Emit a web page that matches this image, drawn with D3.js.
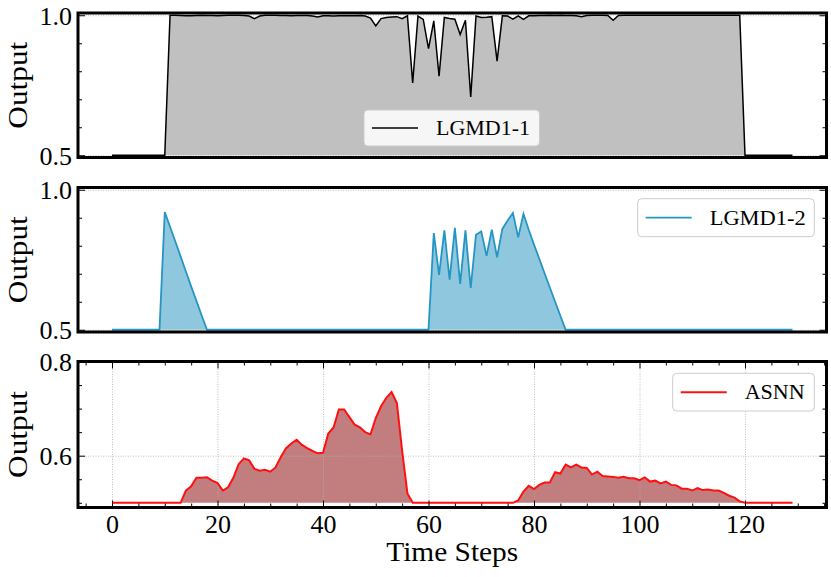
<!DOCTYPE html>
<html>
<head>
<meta charset="utf-8">
<script src="https://cdn.jsdelivr.net/npm/d3@7"></script>
<style>
  html, body { margin: 0; padding: 0; background: #fff; }
  svg { display: block; }
  text { font-family: "Liberation Serif", "Times New Roman", serif; fill: #000; }
</style>
</head>
<body>
<svg id="chart" width="831" height="577"></svg>
<script>
// ---------------- DATA ----------------
const xTicks = [0, 20, 40, 60, 80, 100, 120];
const seriesNames = ["LGMD1-1", "LGMD1-2", "ASNN"];

const lgmd1_1 = [
  0.5, 0.5, 0.5, 0.5, 0.5, 0.5, 0.5, 0.5, 0.5, 0.5, 0.5,
  1.0, 1.0, 0.999, 0.998, 0.998, 0.999, 1.0, 0.999, 0.999, 0.998,
  0.999, 1.0, 1.0, 1.0, 0.999, 0.997, 0.988, 0.997, 1.0, 1.0,
  1.0, 0.999, 0.999, 0.998, 0.999, 0.999, 0.999, 0.997, 0.994, 0.998,
  0.998, 0.997, 0.998, 0.998, 0.998, 0.998, 0.999, 0.997, 0.990, 0.962,
  0.988, 0.992, 0.994, 0.995, 0.988, 0.998, 0.758, 0.997, 0.985, 0.881,
  0.980, 0.782, 0.992, 0.988, 0.986, 0.931, 0.982, 0.708, 0.997, 0.992,
  0.993, 0.995, 0.836, 0.998, 0.997, 0.986, 0.998, 0.985, 0.998, 0.998,
  0.999, 0.999, 1.0, 0.999, 1.0, 0.999, 0.999, 0.998, 0.995, 0.999,
  1.0, 1.0, 1.0, 0.999, 0.982, 0.999, 1.0, 1.0, 1.0, 1.0,
  1.0, 1.0, 1.0, 1.0, 1.0, 1.0, 1.0, 1.0, 1.0, 1.0,
  1.0, 1.0, 1.0, 1.0, 1.0, 1.0, 1.0, 1.0, 1.0,
  0.5, 0.5, 0.5, 0.5, 0.5, 0.5, 0.5, 0.5, 0.5, 0.5
];

const lgmd1_2 = [
  0.5, 0.5, 0.5, 0.5, 0.5, 0.5, 0.5, 0.5, 0.5, 0.5,
  0.92, 0.868, 0.815, 0.762, 0.708, 0.655, 0.603, 0.551, 0.5,
  0.5, 0.5, 0.5, 0.5, 0.5, 0.5, 0.5, 0.5, 0.5, 0.5,
  0.5, 0.5, 0.5, 0.5, 0.5, 0.5, 0.5, 0.5, 0.5, 0.5,
  0.5, 0.5, 0.5, 0.5, 0.5, 0.5, 0.5, 0.5, 0.5, 0.5,
  0.5, 0.5, 0.5, 0.5, 0.5, 0.5, 0.5, 0.5, 0.5, 0.5,
  0.5, 0.5,
  0.845, 0.696, 0.855, 0.679, 0.864, 0.664, 0.855, 0.649, 0.839, 0.851,
  0.764, 0.857, 0.759, 0.86, 0.89, 0.917, 0.83, 0.914, 0.857, 0.804,
  0.753, 0.702, 0.651, 0.6, 0.55, 0.5,
  0.5, 0.5, 0.5, 0.5, 0.5, 0.5, 0.5, 0.5, 0.5, 0.5,
  0.5, 0.5, 0.5, 0.5, 0.5, 0.5, 0.5, 0.5, 0.5, 0.5,
  0.5, 0.5, 0.5, 0.5, 0.5, 0.5, 0.5, 0.5, 0.5, 0.5,
  0.5, 0.5, 0.5, 0.5, 0.5, 0.5, 0.5, 0.5, 0.5, 0.5,
  0.5, 0.5, 0.5
];

const asnn = [
  0.5, 0.5, 0.5, 0.5, 0.5, 0.5, 0.5, 0.5, 0.5, 0.5, 0.5, 0.5, 0.5, 0.5,
  0.526, 0.535, 0.553, 0.553, 0.554, 0.547, 0.542, 0.526, 0.533, 0.553,
  0.582, 0.594, 0.590, 0.572, 0.568, 0.570, 0.566, 0.575, 0.597, 0.616,
  0.626, 0.634, 0.623, 0.616, 0.610, 0.605, 0.606, 0.647, 0.660, 0.698,
  0.698, 0.682, 0.666, 0.660, 0.650, 0.645, 0.680, 0.705, 0.723, 0.735,
  0.712, 0.61, 0.52,
  0.5, 0.5, 0.5, 0.5, 0.5, 0.5, 0.5, 0.5, 0.5, 0.5,
  0.5, 0.5, 0.5, 0.5, 0.5, 0.5, 0.5, 0.5, 0.5, 0.5,
  0.505, 0.524, 0.536, 0.529, 0.538, 0.543, 0.543, 0.565, 0.562, 0.581,
  0.575, 0.581, 0.575, 0.574, 0.560, 0.566, 0.557, 0.556, 0.555, 0.553,
  0.555, 0.552, 0.552, 0.548, 0.554, 0.545, 0.547, 0.541, 0.545, 0.538,
  0.537, 0.530, 0.530, 0.526, 0.531, 0.527, 0.528, 0.526, 0.526, 0.521,
  0.515, 0.511, 0.503,
  0.5, 0.5, 0.5, 0.5, 0.5, 0.5, 0.5, 0.5, 0.5, 0.5
];

const yMajor12 = [0.5, 1.0];
const yMinor12 = [0.6, 0.7, 0.8, 0.9];
const yMajor3 = [0.6, 0.8];
const yMinor3 = [0.5, 0.55, 0.65, 0.7, 0.75];

// ---------------- LAYOUT ----------------
const svg = d3.select("#chart");
const X0 = 78, X1 = 826.5;
const x = d3.scaleLinear().domain([-6.45, 135.45]).range([X0, X1]);
const fmt = d3.format(".1f");

const panels = [
  { data: lgmd1_1, name: seriesNames[0], top: 13, bottom: 157.5, dom: [0.492, 1.008],
    major: yMajor12, minor: yMinor12, line: "#000000", lw: 1.5, fill: "#c0c0c0", fillOp: 1,
    xaxis: false,
    legend: { x: 364, y: 110, w: 175.5, h: 36, tw: 94 } },
  { data: lgmd1_2, name: seriesNames[1], top: 187.5, bottom: 332, dom: [0.492, 1.008],
    major: yMajor12, minor: yMinor12, line: "#2596c4", lw: 1.8, fill: "#8fc8de", fillOp: 1,
    xaxis: false,
    legend: { x: 637.7, y: 198.7, w: 176.6, h: 38, tw: 96 } },
  { data: asnn, name: seriesNames[2], top: 361.5, bottom: 507.5, dom: [0.49, 0.80],
    major: yMajor3, minor: yMinor3, line: "#ff1010", lw: 2, fill: "#c27e7e", fillOp: 1,
    xaxis: true,
    legend: { x: 672.7, y: 373.3, w: 141.6, h: 37.7, tw: 60 } }
];

function styleTicks(g) {
  g.select(".domain").remove();
  g.selectAll(".tick line").attr("stroke", "#000").attr("stroke-width", 1);
}

panels.forEach(p => {
  const y = d3.scaleLinear().domain(p.dom).range([p.bottom, p.top]);
  const g = svg.append("g");

  // fill
  const area = d3.area()
    .x((d, i) => x(i))
    .y0(y(0.5))
    .y1(d => y(d));
  g.append("path").datum(p.data)
    .attr("d", area)
    .attr("fill", p.fill)
    .attr("fill-opacity", p.fillOp);

  // grid
  const gridY = g.append("g").attr("transform", `translate(${X0},0)`)
    .call(d3.axisLeft(y).tickValues(p.major).tickSize(-(X1 - X0)).tickFormat(""));
  gridY.select(".domain").remove();
  gridY.selectAll(".tick line").attr("stroke", "#b0b0b0").attr("stroke-width", 0.8)
    .attr("stroke-dasharray", "1,1.5");
  if (p.xaxis) {
    const gridX = g.append("g").attr("transform", `translate(0,${p.bottom})`)
      .call(d3.axisBottom(x).tickValues(xTicks).tickSize(-(p.bottom - p.top)).tickFormat(""));
    gridX.select(".domain").remove();
    gridX.selectAll(".tick line").attr("stroke", "#b0b0b0").attr("stroke-width", 0.8)
      .attr("stroke-dasharray", "1,1.5");
  }

  // line
  const line = d3.line().x((d, i) => x(i)).y(d => y(d));
  g.append("path").datum(p.data)
    .attr("d", line)
    .attr("fill", "none")
    .attr("stroke", p.line)
    .attr("stroke-width", p.lw)
    .attr("stroke-linejoin", "miter");

  // y ticks left (major with labels)
  const yl = g.append("g").attr("transform", `translate(${X0},0)`)
    .call(d3.axisLeft(y).tickValues(p.major).tickSize(-7).tickPadding(6).tickFormat(fmt));
  styleTicks(yl);
  yl.selectAll("text").attr("font-size", "26px").attr("dy", "0.34em")
    .attr("font-family", "Liberation Serif, serif");
  const ylm = g.append("g").attr("transform", `translate(${X0},0)`)
    .call(d3.axisLeft(y).tickValues(p.minor).tickSize(-4).tickFormat(""));
  styleTicks(ylm);
  // right ticks
  const yr = g.append("g").attr("transform", `translate(${X1},0)`)
    .call(d3.axisRight(y).tickValues(p.major).tickSize(-7).tickFormat(""));
  styleTicks(yr);
  const yrm = g.append("g").attr("transform", `translate(${X1},0)`)
    .call(d3.axisRight(y).tickValues(p.minor).tickSize(-4).tickFormat(""));
  styleTicks(yrm);

  if (p.xaxis) {
    const minorX = d3.range(-5, 136, 5).filter(v => xTicks.indexOf(v) < 0);
    const xb = g.append("g").attr("transform", `translate(0,${p.bottom})`)
      .call(d3.axisBottom(x).tickValues(xTicks).tickSize(-7).tickFormat(d3.format("d")));
    styleTicks(xb);
    xb.selectAll("text").attr("font-size", "26px").attr("dy", null).attr("y", 25.5)
      .attr("font-family", "Liberation Serif, serif");
    const xbm = g.append("g").attr("transform", `translate(0,${p.bottom})`)
      .call(d3.axisBottom(x).tickValues(minorX).tickSize(-4).tickFormat(""));
    styleTicks(xbm);
    const xt = g.append("g").attr("transform", `translate(0,${p.top})`)
      .call(d3.axisTop(x).tickValues(xTicks).tickSize(-7).tickFormat(""));
    styleTicks(xt);
    const xtm = g.append("g").attr("transform", `translate(0,${p.top})`)
      .call(d3.axisTop(x).tickValues(minorX).tickSize(-4).tickFormat(""));
    styleTicks(xtm);
  }

  // frame
  g.append("rect")
    .attr("x", X0).attr("y", p.top)
    .attr("width", X1 - X0).attr("height", p.bottom - p.top)
    .attr("fill", "none").attr("stroke", "#000").attr("stroke-width", 3);

  // y label
  const cy = (p.top + p.bottom) / 2;
  g.append("text")
    .attr("transform", `translate(26.5,${cy}) rotate(-90)`)
    .attr("text-anchor", "middle")
    .attr("font-size", "27px")
    .attr("textLength", 87)
    .attr("lengthAdjust", "spacingAndGlyphs")
    .text("Output");

  // legend
  const L = p.legend;
  const lg = g.append("g");
  lg.append("rect")
    .attr("x", L.x).attr("y", L.y).attr("width", L.w).attr("height", L.h)
    .attr("rx", 4).attr("ry", 4)
    .attr("fill", "#ffffff").attr("fill-opacity", 0.85)
    .attr("stroke", "#cccccc").attr("stroke-width", 1);
  const ly = L.y + L.h / 2;
  lg.append("line")
    .attr("x1", L.x + 8).attr("x2", L.x + 54)
    .attr("y1", ly).attr("y2", ly)
    .attr("stroke", p.line).attr("stroke-width", p.lw);
  lg.append("text")
    .attr("x", L.x + 72).attr("y", ly + 7.3)
    .attr("font-size", "21px")
    .attr("textLength", L.tw)
    .attr("lengthAdjust", "spacingAndGlyphs")
    .text(p.name);
});

// x label
svg.append("text")
  .attr("x", (X0 + X1) / 2).attr("y", 561)
  .attr("text-anchor", "middle")
  .attr("font-size", "27px")
  .attr("textLength", 132)
  .attr("lengthAdjust", "spacingAndGlyphs")
  .text("Time Steps");
</script>
</body>
</html>
